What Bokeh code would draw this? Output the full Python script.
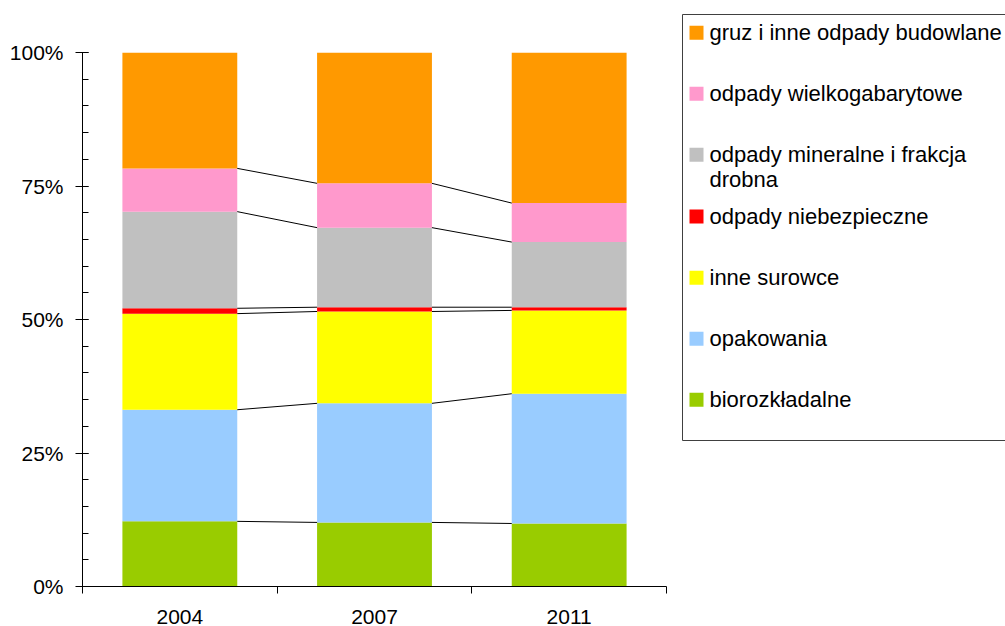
import numpy as np
from bokeh.plotting import figure
from bokeh.layouts import row
from bokeh.models import FixedTicker, ColumnDataSource, Range1d
from bokeh.core.properties import value
from bokeh.embed import file_html
from bokeh.resources import INLINE

years = ["2004", "2007", "2011"]
# bottom to top
biorozkladalne = [12.2, 12.0, 11.8]
opakowania = [20.9, 22.3, 24.3]
inne_surowce = [18.0, 17.2, 15.6]
niebezpieczne = [1.0, 0.8, 0.6]
mineralne = [18.1, 14.9, 12.2]
wielkogabarytowe = [8.1, 8.3, 7.3]
gruz = [21.7, 24.5, 28.2]

series_keys = ["bio", "opak", "inne", "niebez", "mineral", "wielko", "gruz"]
series_vals = [biorozkladalne, opakowania, inne_surowce, niebezpieczne, mineralne, wielkogabarytowe, gruz]
series_labels = ["biorozkładalne", "opakowania", "inne surowce", "odpady niebezpieczne",
                 "odpady mineralne i frakcja\ndrobna", "odpady wielkogabarytowe",
                 "gruz i inne odpady budowlane"]
colors = ["#99CC00", "#99CCFF", "#FFFF00", "#FF0000", "#C0C0C0", "#FF99CC", "#FF9900"]
y_ticks = [0, 25, 50, 75, 100]
y_tick_labels = ["0%", "25%", "50%", "75%", "100%"]

FONT = "Liberation Sans"
H = 626
BW = 0.59

xs = [i + 0.5 for i in range(len(years))]
data = {"x": xs}
for k, v in zip(series_keys, series_vals):
    data[k] = v
src = ColumnDataSource(data)

p = figure(width=680, height=H, x_range=Range1d(0, 3), y_range=Range1d(0, 100),
           output_backend="svg", toolbar_location=None,
           min_border_left=82, min_border_right=14, min_border_top=52, min_border_bottom=40)
p.outline_line_color = None
p.xgrid.visible = False
p.ygrid.visible = False
p.background_fill_color = "white"
p.border_fill_color = "white"

p.vbar_stack(series_keys, x="x", width=BW, color=colors, line_color=None, source=src)

# series lines between bars
cum = np.cumsum(np.array(series_vals), axis=0)
x0s, x1s, y0s, y1s = [], [], [], []
for s in range(len(series_keys) - 1):
    for i in range(len(years) - 1):
        x0s.append(xs[i] + BW / 2)
        x1s.append(xs[i + 1] - BW / 2)
        y0s.append(cum[s, i])
        y1s.append(cum[s, i + 1])
p.segment(x0=x0s, y0=y0s, x1=x1s, y1=y1s, line_color="black", line_width=1)

# axes
p.xaxis.ticker = FixedTicker(ticks=xs, minor_ticks=[0, 1, 2, 3])
p.xaxis.major_label_overrides = {x: y for x, y in zip(xs, years)}
p.xaxis.major_tick_out = 0
p.xaxis.major_tick_in = 0
p.xaxis.minor_tick_out = 7
p.xaxis.minor_tick_in = 0
p.xaxis.major_label_standoff = 16
p.xaxis.axis_line_color = "black"
p.xaxis.minor_tick_line_color = "black"

p.yaxis.ticker = FixedTicker(ticks=y_ticks, minor_ticks=list(range(0, 101, 5)))
p.yaxis.major_label_overrides = {t: l for t, l in zip(y_ticks, y_tick_labels)}
p.yaxis.major_tick_out = 7
p.yaxis.major_tick_in = 6
p.yaxis.minor_tick_out = 0
p.yaxis.minor_tick_in = 6
p.yaxis.major_label_standoff = 12
p.yaxis.axis_line_color = "black"
p.yaxis.major_tick_line_color = "black"
p.yaxis.minor_tick_line_color = "black"

for ax in (p.xaxis, p.yaxis):
    ax.major_label_text_font = FONT
    ax.major_label_text_font_size = "21px"
    ax.major_label_text_color = "black"

# legend panel
q = figure(width=325, height=H, x_range=Range1d(0, 325), y_range=Range1d(H, 0),
           output_backend="svg", toolbar_location=None,
           min_border=0, min_border_left=0, min_border_right=0, min_border_top=0, min_border_bottom=0)
q.axis.visible = False
q.xgrid.visible = False
q.ygrid.visible = False
q.outline_line_color = None
q.border_fill_color = "white"
if "frame_align" in q.properties():
    q.frame_align = False
    p.frame_align = False

q.quad(left=[2], right=[400], top=[14], bottom=[440], fill_color=None, line_color="#404040", line_width=1)

row_y = [399.3, 338.3, 277.3, 216.0, 154.3, 93.3, 32.3]  # bottom to top order of series
sq_x = [16] * len(series_keys)
q.rect(x=sq_x, y=row_y, width=14, height=14, fill_color=colors, line_color=None)

label_x, label_y, label_t = [], [], []
for yy, lab in zip(row_y, series_labels):
    parts = lab.split("\n")
    for j, part in enumerate(parts):
        label_x.append(29)
        label_y.append(yy + j * 25)
        label_t.append(part)
q.text(x=label_x, y=label_y, text=label_t, text_font=value(FONT), text_font_size="22px",
       text_baseline="middle", text_align="left", text_color="black")

layout = row(p, q)
open("out.html", "w").write(file_html(layout, INLINE))
